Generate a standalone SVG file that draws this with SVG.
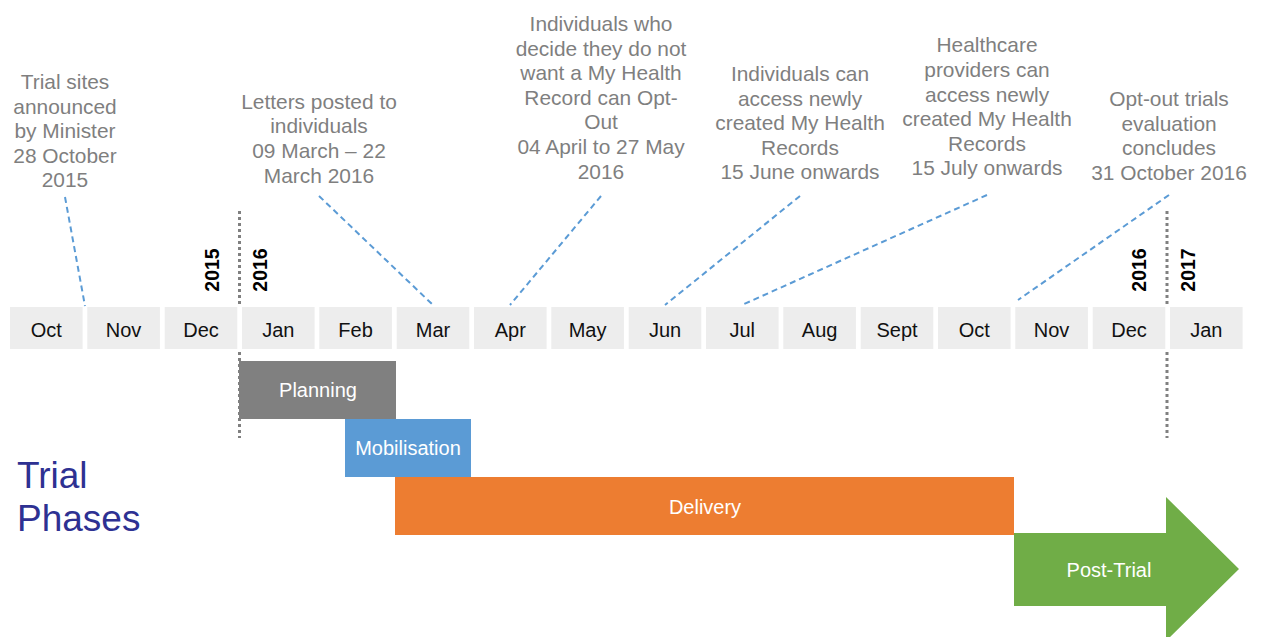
<svg xmlns="http://www.w3.org/2000/svg" width="1262" height="637" viewBox="0 0 1262 637">
<style>
.mb{fill:#EDEDED}
.ml{font-family:"Liberation Sans",Arial,sans-serif;font-size:20px;fill:#111;text-anchor:middle}
.an{font-family:"Liberation Sans",Arial,sans-serif;font-size:20.9px;fill:#7F7F7F;text-anchor:middle}
.yr{font-family:"Liberation Sans",Arial,sans-serif;font-size:19.5px;font-weight:bold;fill:#000;text-anchor:middle}
.bl{font-family:"Liberation Sans",Arial,sans-serif;font-size:20px;fill:#fff;text-anchor:middle}
.dash{stroke:#5B9BD5;stroke-width:2;stroke-dasharray:6 4;fill:none}
.dot{stroke:#808080;stroke-width:3;stroke-dasharray:3 3;fill:none}
</style>
<rect width="1262" height="637" fill="#fff"/>
<g id="months">
<rect class="mb" x="10" y="307" width="72.6" height="42"/><text class="ml" x="46.3" y="337">Oct</text>
<rect class="mb" x="87.3" y="307" width="72.6" height="42"/><text class="ml" x="123.6" y="337">Nov</text>
<rect class="mb" x="164.7" y="307" width="72.6" height="42"/><text class="ml" x="201" y="337">Dec</text>
<rect class="mb" x="242" y="307" width="72.6" height="42"/><text class="ml" x="278.3" y="337">Jan</text>
<rect class="mb" x="319.3" y="307" width="72.6" height="42"/><text class="ml" x="355.6" y="337">Feb</text>
<rect class="mb" x="396.7" y="307" width="72.6" height="42"/><text class="ml" x="433" y="337">Mar</text>
<rect class="mb" x="474" y="307" width="72.6" height="42"/><text class="ml" x="510.3" y="337">Apr</text>
<rect class="mb" x="551.3" y="307" width="72.6" height="42"/><text class="ml" x="587.6" y="337">May</text>
<rect class="mb" x="628.7" y="307" width="72.6" height="42"/><text class="ml" x="665" y="337">Jun</text>
<rect class="mb" x="706" y="307" width="72.6" height="42"/><text class="ml" x="742.3" y="337">Jul</text>
<rect class="mb" x="783.3" y="307" width="72.6" height="42"/><text class="ml" x="819.6" y="337">Aug</text>
<rect class="mb" x="860.7" y="307" width="72.6" height="42"/><text class="ml" x="897" y="337">Sept</text>
<rect class="mb" x="938" y="307" width="72.6" height="42"/><text class="ml" x="974.3" y="337">Oct</text>
<rect class="mb" x="1015.3" y="307" width="72.6" height="42"/><text class="ml" x="1051.6" y="337">Nov</text>
<rect class="mb" x="1092.7" y="307" width="72.6" height="42"/><text class="ml" x="1129" y="337">Dec</text>
<rect class="mb" x="1170" y="307" width="72.6" height="42"/><text class="ml" x="1206.3" y="337">Jan</text>
</g>
<g id="year-dividers">
<line class="dot" x1="239.5" y1="211" x2="239.5" y2="304"/>
<line class="dot" x1="239.5" y1="352" x2="239.5" y2="438"/>
<line class="dot" x1="1167" y1="211" x2="1167" y2="304"/>
<line class="dot" x1="1167" y1="352" x2="1167" y2="438"/>
<text class="yr" x="219" y="270" transform="rotate(-90 219 270)">2015</text>
<text class="yr" x="267" y="270" transform="rotate(-90 267 270)">2016</text>
<text class="yr" x="1146" y="270" transform="rotate(-90 1146 270)">2016</text>
<text class="yr" x="1195" y="270" transform="rotate(-90 1195 270)">2017</text>
</g>
<g id="connectors">
<line class="dash" x1="65" y1="197" x2="85" y2="306"/>
<line class="dash" x1="319" y1="196" x2="433" y2="305"/>
<line class="dash" x1="601" y1="196" x2="510" y2="305"/>
<line class="dash" x1="800" y1="196" x2="665" y2="305"/>
<line class="dash" x1="987" y1="195" x2="742" y2="305"/>
<line class="dash" x1="1169" y1="195" x2="1018" y2="300"/>
</g>
<g id="note-trial-sites">
<text class="an" x="65" y="89">Trial sites</text>
<text class="an" x="65" y="113.6">announced</text>
<text class="an" x="65" y="138.2">by Minister</text>
<text class="an" x="65" y="162.8">28 October</text>
<text class="an" x="65" y="187.4">2015</text>
</g>
<g id="note-letters">
<text class="an" x="319" y="108.8">Letters posted to</text>
<text class="an" x="319" y="133.4">individuals</text>
<text class="an" x="319" y="158">09 March – 22</text>
<text class="an" x="319" y="182.6">March 2016</text>
</g>
<g id="note-opt-out">
<text class="an" x="601" y="31">Individuals who</text>
<text class="an" x="601" y="55.6">decide they do not</text>
<text class="an" x="601" y="80.2">want a My Health</text>
<text class="an" x="601" y="104.8">Record can Opt-</text>
<text class="an" x="601" y="129.4">Out</text>
<text class="an" x="601" y="154">04 April to 27 May</text>
<text class="an" x="601" y="178.6">2016</text>
</g>
<g id="note-individuals-access">
<text class="an" x="800" y="81">Individuals can</text>
<text class="an" x="800" y="105.6">access newly</text>
<text class="an" x="800" y="130.2">created My Health</text>
<text class="an" x="800" y="154.8">Records</text>
<text class="an" x="800" y="179.4">15 June onwards</text>
</g>
<g id="note-providers-access">
<text class="an" x="987" y="52.4">Healthcare</text>
<text class="an" x="987" y="77">providers can</text>
<text class="an" x="987" y="101.6">access newly</text>
<text class="an" x="987" y="126.2">created My Health</text>
<text class="an" x="987" y="150.8">Records</text>
<text class="an" x="987" y="175.4">15 July onwards</text>
</g>
<g id="note-evaluation">
<text class="an" x="1169" y="106">Opt-out trials</text>
<text class="an" x="1169" y="130.6">evaluation</text>
<text class="an" x="1169" y="155.2">concludes</text>
<text class="an" x="1169" y="179.8">31 October 2016</text>
</g>
<g id="title">
<text x="17" y="488" font-family="'Liberation Sans',Arial,sans-serif" font-size="37" fill="#2E3192">Trial</text>
<text x="17" y="531" font-family="'Liberation Sans',Arial,sans-serif" font-size="37" fill="#2E3192">Phases</text>
</g>
<g id="planning">
<rect x="239" y="361" width="157" height="58" fill="#808080"/>
<text class="bl" x="318" y="397">Planning</text>
</g>
<g id="mobilisation">
<rect x="345" y="419" width="126" height="58" fill="#5B9BD5"/>
<text class="bl" x="408" y="455">Mobilisation</text>
</g>
<g id="delivery">
<rect x="395" y="477" width="619" height="58" fill="#ED7D31"/>
<text class="bl" x="705" y="513.5">Delivery</text>
</g>
<g id="post-trial">
<polygon points="1014,533 1166,533 1166,497 1239,569 1166,641 1166,606 1014,606" fill="#70AD47"/>
<text class="bl" x="1109" y="577">Post-Trial</text>
</g>
</svg>
